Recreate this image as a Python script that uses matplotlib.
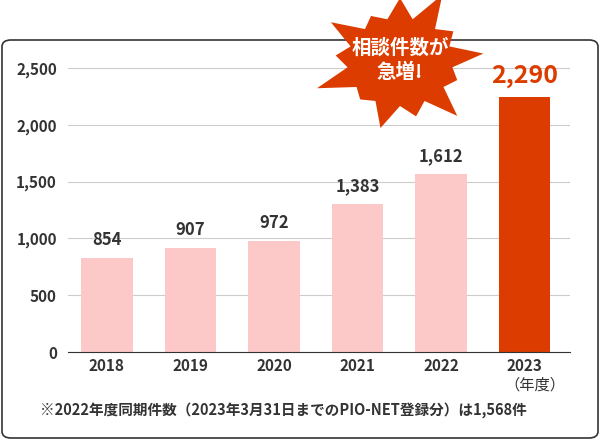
import matplotlib
matplotlib.use("Agg")
import matplotlib.pyplot as plt
import numpy as np
from matplotlib.patches import FancyBboxPatch, Polygon

plt.rcParams['font.family'] = ['Noto Sans CJK JP', 'DejaVu Sans']

years = ['2018', '2019', '2020', '2021', '2022', '2023']
bar_values = [827, 918, 975, 1300, 1567, 2245]
labels = ['854', '907', '972', '1,383', '1,612', '2,290']
yticks = [0, 500, 1000, 1500, 2000, 2500]
ytick_labels = ['0', '500', '1,000', '1,500', '2,000', '2,500']

W, H = 600, 440
fig = plt.figure(figsize=(6, 4.4), dpi=100)
fig.patches.append(FancyBboxPatch((2/W, 2/H), 596/W, 398/H, boxstyle="round,pad=0,rounding_size=0.015",
                                  transform=fig.transFigure, fill=False, ec='#333333', lw=1.2))

ax = fig.add_axes([68/W, 88/H, 502/W, 312/H])
ymax = 2500 * 312 / 284
ax.set_ylim(0, ymax)
ax.set_xlim(-0.467, 5.545)
colors = ['#fcc8c8'] * 5 + ['#dc3c00']
x = np.arange(len(years))
ax.bar(x, bar_values, width=0.62, color=colors, zorder=2)
for i, (v, l) in enumerate(zip(bar_values, labels)):
    if i == 5:
        ax.text(i, v + 80, l, ha='center', va='bottom', fontsize=18, color='#dc3c00', fontweight='bold')
    else:
        ax.text(i, v + 80, l, ha='center', va='bottom', fontsize=12, color='#333333', fontweight='bold')
ax.set_yticks(yticks)
ax.set_yticklabels(ytick_labels, fontsize=11, fontweight='bold', color='#333333')
ax.set_xticks(x)
ax.set_xticklabels(years, fontsize=11, fontweight='bold', color='#333333')
ax.grid(axis='y', color='#cccccc', lw=0.8, zorder=0)
for s in ['top', 'right', 'left']:
    ax.spines[s].set_visible(False)
ax.spines['bottom'].set_color('#333333')
ax.tick_params(axis='x', length=0, pad=4)
ax.tick_params(axis='y', length=0, pad=8)

fig.text(565/W, 1 - 385/H, '（年度）', ha='right', va='center', fontsize=11, color='#333333')
fig.text(40/W, 1 - 410/H, '※2022年度同期件数（2023年3月31日までのPIO-NET登録分）は1,568件',
         ha='left', va='center', fontsize=10.5, fontweight='bold', color='#333333')

# starburst
cx, cy = 400, 62
n = 13
rng_r = [64, 52, 70, 54, 74, 50, 68, 56, 72, 51, 70, 54, 76]
pts = []
for k in range(2 * n):
    ang = np.pi / 2 + k * np.pi / n
    r = (rng_r[(k // 2) % n] if k % 2 == 0 else 44)
    pts.append(((cx + 1.2 * r * np.cos(ang)) / W, 1 - (cy - r * np.sin(ang)) / H))
fig.patches.append(Polygon(pts, closed=True, transform=fig.transFigure, fc='#dc3c00', ec='none'))
fig.text(cx / W, 1 - (cy - 2) / H, '相談件数が\n急増!', ha='center', va='center', fontsize=14,
         color='white', fontweight='bold', linespacing=1.3)

fig.savefig('out.png', dpi=100)
